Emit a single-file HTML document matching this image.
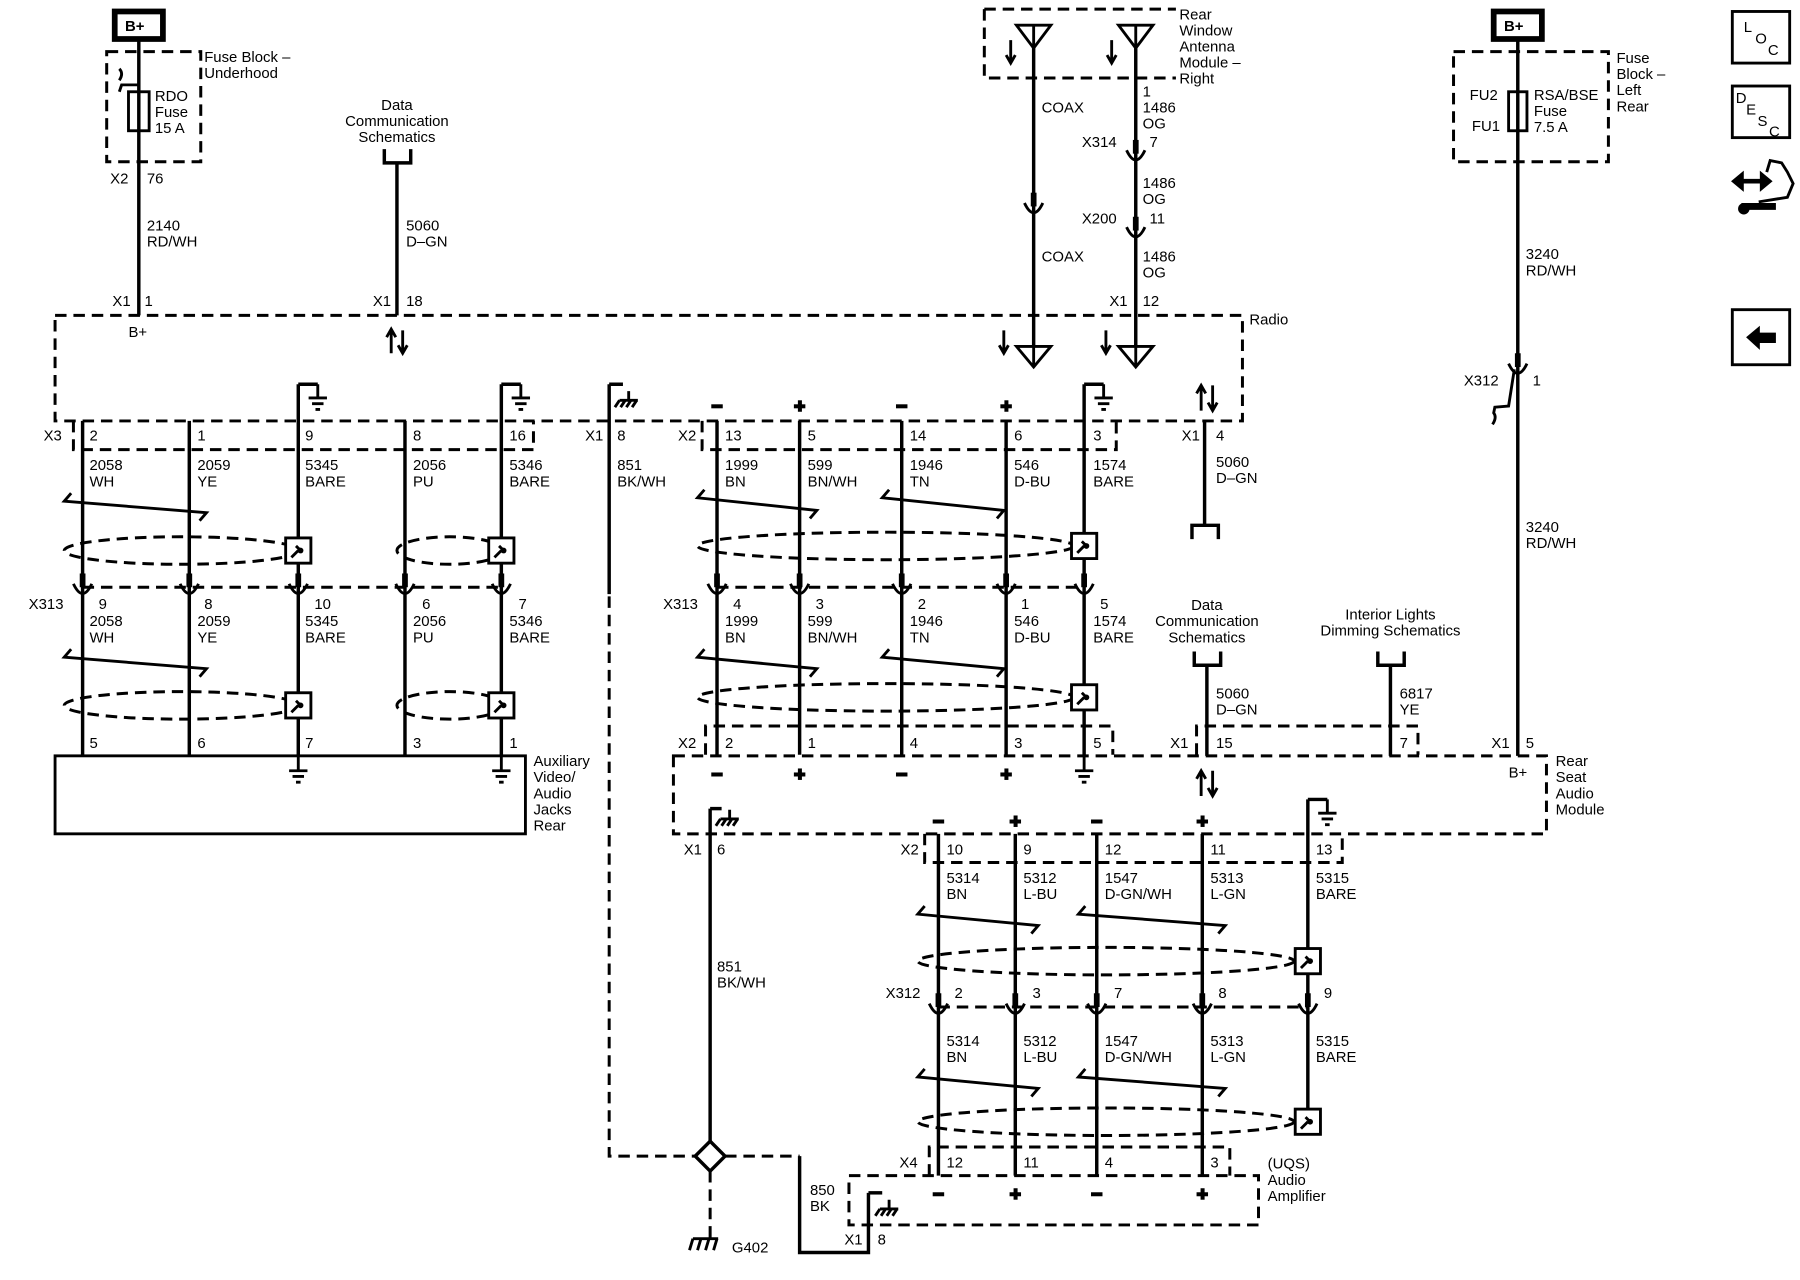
<!DOCTYPE html>
<html><head><meta charset="utf-8"><style>
html,body{margin:0;padding:0;background:#fff;}
svg{display:block}
text{font-family:"Liberation Sans",Arial,sans-serif;font-size:13px;fill:#000;}
.w{stroke:#000;stroke-width:3;fill:none}
.d{stroke:#000;stroke-width:2.6;fill:none;stroke-dasharray:10 6}
.t{stroke:#000;stroke-width:2.5;fill:none}
</style></head><body>
<svg width="1800" height="1280" viewBox="0 0 1569 1116" preserveAspectRatio="none" xmlns="http://www.w3.org/2000/svg">
<defs>
<g id="gnd"><path class="t" d="M0 0v12M-8 12h16M-5 17h10M-2 22h4"/></g>
<g id="cn"><rect x="-2.5" y="-16" width="5" height="12" fill="#000"/><path class="t" d="M-8 -7Q0 10 8 -7"/></g>
<g id="sb"><rect x="-11" y="-11" width="22" height="22" fill="#fff" stroke="#000" stroke-width="2.5"/><path class="t" d="M-6 6L0 0M-2 -4L2 0" /><circle cx="2" cy="0" r="2.5" fill="#000"/></g>
<g id="cg"><path class="t" d="M0 0v8M-8 8h16M-8 8l-4 6M-3 8l-4 6M2 8l-4 6M7 8l-4 6"/></g>
<g id="ant"><path class="t" d="M-15 0h30L0 20ZM0 0v20"/></g>
<g id="rx"><path class="t" d="M-15 0h30L0 18ZM0 -2v20"/></g>
<g id="mi"><rect x="-5" y="-1.5" width="10" height="3.5" fill="#000"/></g>
<g id="pl"><rect x="-5" y="-1.5" width="10" height="3.5" fill="#000"/><rect x="-1.5" y="-5" width="3.5" height="10" fill="#000"/></g>
</defs>

<!-- right icons -->
<rect x="1510" y="10" width="50" height="45" fill="none" stroke="#000" stroke-width="2.5"/>
<text x="1520" y="28" font-size="12">L</text><text x="1530" y="38" font-size="12">O</text><text x="1541" y="48" font-size="12">C</text>
<rect x="1510" y="75" width="50" height="45" fill="none" stroke="#000" stroke-width="2.5"/>
<text x="1513" y="90" font-size="12">D</text><text x="1522" y="100" font-size="12">E</text><text x="1532" y="110" font-size="12">S</text><text x="1542" y="119" font-size="12">C</text>
<path d="M1512 158h30M1512 158l6 -5v10zM1542 158l-6 -5v10z" stroke="#000" stroke-width="4" fill="#000"/>
<path d="M1540 150l3 -10l10 2l5 8l5 10l-5 12l-25 4" class="t"/>
<path d="M1518 180h30" stroke="#000" stroke-width="6"/><circle cx="1520" cy="182" r="5" fill="#000"/>
<rect x="1510" y="270" width="50" height="48" fill="none" stroke="#000" stroke-width="2.5"/>
<path d="M1522 294l12 -10v6h14v9h-14v6z" fill="#000"/>

<!-- top left fuse -->
<rect x="100" y="10" width="42" height="24" fill="#fff" stroke="#000" stroke-width="5"/>
<text x="109" y="27" font-weight="bold">B+</text>
<path class="d" d="M93 45h82v96h-82z"/>
<text x="178" y="54">Fuse Block –</text><text x="178" y="68">Underhood</text>
<path class="w" d="M121 34V275"/>
<path class="t" d="M121 74h-15l-2 6M104 70q4 -6 0 -10"/>
<rect x="112" y="80" width="18" height="34" fill="none" stroke="#000" stroke-width="2.5"/>
<text x="135" y="88">RDO</text><text x="135" y="102">Fuse</text><text x="135" y="116">15 A</text>
<text x="96" y="160">X2</text><text x="128" y="160">76</text>
<text x="128" y="201">2140</text><text x="128" y="215">RD/WH</text>
<text x="98" y="267">X1</text><text x="126" y="267">1</text><text x="112" y="294">B+</text>

<!-- data comm top -->
<text x="346" y="96" text-anchor="middle">Data</text><text x="346" y="110" text-anchor="middle">Communication</text><text x="346" y="124" text-anchor="middle">Schematics</text>
<path class="w" d="M335 130v12h23v-12M346 142V275"/>
<text x="354" y="201">5060</text><text x="354" y="215">D–GN</text>
<text x="325" y="267">X1</text><text x="354" y="267">18</text>
<path class="t" d="M341 308v-20M337 294l4 -7l4 7M351 288v20M347 301l4 7l4 -7"/>

<!-- antenna module -->
<path class="d" d="M858 8h167M858 8v60h167"/>
<text x="1028" y="17">Rear</text><text x="1028" y="31">Window</text><text x="1028" y="45">Antenna</text><text x="1028" y="59">Module –</text><text x="1028" y="73">Right</text>
<use href="#ant" x="901" y="22"/><use href="#ant" x="990" y="22"/>
<path class="t" d="M881 35v20M877 48l4 7l4 -7M969 35v20M965 48l4 7l4 -7"/>
<path class="w" d="M901 42V302M990 42V302"/>
<use href="#cn" x="901" y="184"/>
<text x="908" y="98">COAX</text><text x="908" y="228">COAX</text>
<text x="996" y="84">1</text><text x="996" y="98">1486</text><text x="996" y="112">OG</text>
<text x="943" y="128">X314</text><text x="1002" y="128">7</text><use href="#cn" x="990" y="138"/>
<text x="996" y="164">1486</text><text x="996" y="178">OG</text>
<text x="943" y="195">X200</text><text x="1002" y="195">11</text><use href="#cn" x="990" y="205"/>
<text x="996" y="228">1486</text><text x="996" y="242">OG</text>
<text x="967" y="267">X1</text><text x="996" y="267">12</text>
<use href="#rx" x="901" y="302"/><use href="#rx" x="990" y="302"/>
<path class="t" d="M875 288v20M871 301l4 7l4 -7M964 288v20M960 301l4 7l4 -7"/>

<!-- radio box -->
<path class="d" d="M48 275H1083V367H48Z"/>
<text x="1089" y="283">Radio</text>

<!-- left section -->
<path class="d" d="M64 367v25h401v-25"/>
<path class="w" d="M72 367V658M165 367V658M260 335V658M353 367V658M437 335V658M260 335h17M437 335h17"/>
<use href="#gnd" x="277" y="335"/><use href="#gnd" x="454" y="335"/>
<text x="38" y="384">X3</text>
<text x="78" y="384">2</text><text x="172" y="384">1</text><text x="266" y="384">9</text><text x="360" y="384">8</text><text x="444" y="384">16</text>
<text x="78" y="410">2058</text><text x="78" y="424">WH</text>
<text x="172" y="410">2059</text><text x="172" y="424">YE</text>
<text x="266" y="410">5345</text><text x="266" y="424">BARE</text>
<text x="360" y="410">2056</text><text x="360" y="424">PU</text>
<text x="444" y="410">5346</text><text x="444" y="424">BARE</text>
<path class="t" d="M62 430L56 437L180 447L174 454"/>
<ellipse cx="158" cy="480" rx="102" ry="12" class="d" stroke-width="2"/>
<ellipse cx="392" cy="480" rx="46" ry="12" class="d" stroke-width="2"/>
<use href="#sb" x="260" y="480"/><use href="#sb" x="437" y="480"/>
<path class="d" d="M72 512H437"/>
<use href="#cn" x="72" y="516"/><use href="#cn" x="165" y="516"/><use href="#cn" x="260" y="516"/><use href="#cn" x="353" y="516"/><use href="#cn" x="437" y="516"/>
<text x="25" y="531">X313</text>
<text x="86" y="531">9</text><text x="178" y="531">8</text><text x="274" y="531">10</text><text x="368" y="531">6</text><text x="452" y="531">7</text>
<text x="78" y="546">2058</text><text x="78" y="560">WH</text>
<text x="172" y="546">2059</text><text x="172" y="560">YE</text>
<text x="266" y="546">5345</text><text x="266" y="560">BARE</text>
<text x="360" y="546">2056</text><text x="360" y="560">PU</text>
<text x="444" y="546">5346</text><text x="444" y="560">BARE</text>
<path class="t" d="M62 566L56 573L180 583L174 590"/>
<ellipse cx="158" cy="615" rx="102" ry="12" class="d" stroke-width="2"/>
<ellipse cx="392" cy="615" rx="46" ry="12" class="d" stroke-width="2"/>
<use href="#sb" x="260" y="615"/><use href="#sb" x="437" y="615"/>
<text x="78" y="652">5</text><text x="172" y="652">6</text><text x="266" y="652">7</text><text x="360" y="652">3</text><text x="444" y="652">1</text>
<rect x="48" y="659" width="410" height="68" fill="none" stroke="#000" stroke-width="2.5"/>
<use href="#gnd" x="260" y="660"/><use href="#gnd" x="437" y="660"/>
<text x="465" y="668">Auxiliary</text><text x="465" y="682">Video/</text><text x="465" y="696">Audio</text><text x="465" y="710">Jacks</text><text x="465" y="724">Rear</text>

<!-- 851 ground wire -->
<path class="w" d="M531 335V518M531 335h12"/>
<use href="#cg" x="548" y="341"/>
<text x="510" y="384">X1</text><text x="538" y="384">8</text>
<text x="538" y="410">851</text><text x="538" y="424">BK/WH</text>
<path class="d" d="M531 520V1008H606M632 1008H697"/>
<path class="w" d="M697 1008V1092H757V1040"/>
<path d="M606 1008L619 995L632 1008L619 1021Z" fill="#fff" stroke="#000" stroke-width="3"/>
<path class="d" d="M619 1021V1080"/>
<path class="t" d="M604 1080h22M604 1080l-3 10M611 1080l-3 10M618 1080l-3 10M625 1080l-3 10"/>
<text x="638" y="1092">G402</text>
<path class="w" d="M619 705V995"/>
<path class="w" d="M619 705h10"/><use href="#cg" x="636" y="706"/>
<text x="596" y="745">X1</text><text x="625" y="745">6</text>
<text x="625" y="847">851</text><text x="625" y="861">BK/WH</text>
<text x="706" y="1042">850</text><text x="706" y="1056">BK</text>
<text x="736" y="1085">X1</text><text x="765" y="1085">8</text>

<!-- middle section -->
<path class="d" d="M612 367v25h361v-25"/>
<path class="w" d="M625 367V658M697 367V658M786 367V658M877 367V658M945 335V658M945 335h17"/>
<use href="#gnd" x="962" y="335"/>
<use href="#mi" x="625" y="354"/><use href="#pl" x="697" y="354"/><use href="#mi" x="786" y="354"/><use href="#pl" x="877" y="354"/>
<text x="591" y="384">X2</text>
<text x="632" y="384">13</text><text x="704" y="384">5</text><text x="793" y="384">14</text><text x="884" y="384">6</text><text x="953" y="384">3</text>
<text x="632" y="410">1999</text><text x="632" y="424">BN</text>
<text x="704" y="410">599</text><text x="704" y="424">BN/WH</text>
<text x="793" y="410">1946</text><text x="793" y="424">TN</text>
<text x="884" y="410">546</text><text x="884" y="424">D-BU</text>
<text x="953" y="410">1574</text><text x="953" y="424">BARE</text>
<path class="t" d="M614 427L608 434L712 445L706 452M775 427L769 434L875 445L869 452"/>
<ellipse cx="772" cy="476" rx="164" ry="12" class="d" stroke-width="2"/>
<use href="#sb" x="945" y="476"/>
<path class="d" d="M625 512H945"/>
<use href="#cn" x="625" y="516"/><use href="#cn" x="697" y="516"/><use href="#cn" x="786" y="516"/><use href="#cn" x="877" y="516"/><use href="#cn" x="945" y="516"/>
<text x="578" y="531">X313</text>
<text x="639" y="531">4</text><text x="711" y="531">3</text><text x="800" y="531">2</text><text x="890" y="531">1</text><text x="959" y="531">5</text>
<text x="632" y="546">1999</text><text x="632" y="560">BN</text>
<text x="704" y="546">599</text><text x="704" y="560">BN/WH</text>
<text x="793" y="546">1946</text><text x="793" y="560">TN</text>
<text x="884" y="546">546</text><text x="884" y="560">D-BU</text>
<text x="953" y="546">1574</text><text x="953" y="560">BARE</text>
<path class="t" d="M614 566L608 573L712 583L706 590M775 566L769 573L875 583L869 590"/>
<ellipse cx="772" cy="608" rx="164" ry="12" class="d" stroke-width="2"/>
<use href="#sb" x="945" y="608"/>
<path class="d" d="M615 658v-25h355v25"/>
<text x="591" y="652">X2</text>
<text x="632" y="652">2</text><text x="704" y="652">1</text><text x="793" y="652">4</text><text x="884" y="652">3</text><text x="953" y="652">5</text>

<!-- X1 4 -->
<path class="t" d="M1047 358v-22M1043 343l4 -7l4 7M1057 336v22M1053 351l4 7l4 -7"/>
<text x="1030" y="384">X1</text><text x="1060" y="384">4</text>
<path class="w" d="M1050 367V458"/>
<path class="w" d="M1039 470v-12h23v12"/>
<text x="1060" y="407">5060</text><text x="1060" y="421">D–GN</text>

<!-- data comm / interior -->
<text x="1052" y="532" text-anchor="middle">Data</text><text x="1052" y="546" text-anchor="middle">Communication</text><text x="1052" y="560" text-anchor="middle">Schematics</text>
<path class="w" d="M1041 568v12h23v-12M1052 580V659"/>
<text x="1060" y="609">5060</text><text x="1060" y="623">D–GN</text>
<text x="1212" y="540" text-anchor="middle">Interior Lights</text><text x="1212" y="554" text-anchor="middle">Dimming Schematics</text>
<path class="w" d="M1201 568v12h23v-12M1212 580V659"/>
<text x="1220" y="609">6817</text><text x="1220" y="623">YE</text>
<path class="d" d="M1043 658v-25h193v25"/>
<text x="1020" y="652">X1</text><text x="1060" y="652">15</text><text x="1220" y="652">7</text>
<path class="t" d="M1047 694v-22M1043 679l4 -7l4 7M1057 672v22M1053 687l4 7l4 -7"/>

<!-- right fuse -->
<rect x="1302" y="10" width="42" height="24" fill="#fff" stroke="#000" stroke-width="5"/>
<text x="1311" y="27" font-weight="bold">B+</text>
<path class="d" d="M1267 45h135v96h-135z"/>
<text x="1409" y="55">Fuse</text><text x="1409" y="69">Block –</text><text x="1409" y="83">Left</text><text x="1409" y="97">Rear</text>
<path class="w" d="M1323 34V310M1323 318V659"/>
<rect x="1315" y="80" width="16" height="34" fill="none" stroke="#000" stroke-width="2.5"/>
<text x="1281" y="87">FU2</text><text x="1283" y="114">FU1</text>
<text x="1337" y="87">RSA/BSE</text><text x="1337" y="101">Fuse</text><text x="1337" y="115">7.5 A</text>
<text x="1330" y="226">3240</text><text x="1330" y="240">RD/WH</text>
<use href="#cn" x="1323" y="324"/>
<path class="t" d="M1320 322l-5 32l-12 1l-1 5q3 4 -1 10"/>
<text x="1276" y="336">X312</text><text x="1336" y="336">1</text>
<text x="1330" y="464">3240</text><text x="1330" y="478">RD/WH</text>
<text x="1300" y="652">X1</text><text x="1330" y="652">5</text>

<!-- RSA module -->
<path class="d" d="M587 659H1348V727H587Z"/>
<text x="1315" y="678">B+</text>
<text x="1356" y="668">Rear</text><text x="1356" y="682">Seat</text><text x="1356" y="696">Audio</text><text x="1356" y="710">Module</text>
<use href="#mi" x="625" y="675"/><use href="#pl" x="697" y="675"/><use href="#mi" x="786" y="675"/><use href="#pl" x="877" y="675"/>
<use href="#gnd" x="945" y="660"/>

<!-- lower section -->
<use href="#mi" x="818" y="716"/><use href="#pl" x="885" y="716"/><use href="#mi" x="956" y="716"/><use href="#pl" x="1048" y="716"/>
<path class="w" d="M818 727V1025M885 727V1025M956 727V1025M1048 727V1025M1140 697V990M1140 697h17"/>
<use href="#gnd" x="1157" y="697"/>
<path class="d" d="M806 727v25h364v-25"/>
<text x="785" y="745">X2</text>
<text x="825" y="745">10</text><text x="892" y="745">9</text><text x="963" y="745">12</text><text x="1055" y="745">11</text><text x="1147" y="745">13</text>
<text x="825" y="770">5314</text><text x="825" y="784">BN</text>
<text x="892" y="770">5312</text><text x="892" y="784">L-BU</text>
<text x="963" y="770">1547</text><text x="963" y="784">D-GN/WH</text>
<text x="1055" y="770">5313</text><text x="1055" y="784">L-GN</text>
<text x="1147" y="770">5315</text><text x="1147" y="784">BARE</text>
<path class="t" d="M806 790L800 797L905 807L899 814M946 790L940 797L1068 807L1062 814"/>
<ellipse cx="964" cy="838" rx="164" ry="12" class="d" stroke-width="2"/>
<use href="#sb" x="1140" y="838"/>
<path class="d" d="M818 878H1140"/>
<use href="#cn" x="818" y="882"/><use href="#cn" x="885" y="882"/><use href="#cn" x="956" y="882"/><use href="#cn" x="1048" y="882"/><use href="#cn" x="1140" y="882"/>
<text x="772" y="870">X312</text>
<text x="832" y="870">2</text><text x="900" y="870">3</text><text x="971" y="870">7</text><text x="1062" y="870">8</text><text x="1154" y="870">9</text>
<text x="825" y="912">5314</text><text x="825" y="926">BN</text>
<text x="892" y="912">5312</text><text x="892" y="926">L-BU</text>
<text x="963" y="912">1547</text><text x="963" y="926">D-GN/WH</text>
<text x="1055" y="912">5313</text><text x="1055" y="926">L-GN</text>
<text x="1147" y="912">5315</text><text x="1147" y="926">BARE</text>
<path class="t" d="M806 932L800 939L905 949L899 956M946 932L940 939L1068 949L1062 956"/>
<ellipse cx="964" cy="978" rx="164" ry="12" class="d" stroke-width="2"/>
<use href="#sb" x="1140" y="978"/>
<path class="d" d="M810 1025v-25h262v25"/>
<text x="784" y="1018">X4</text>
<text x="825" y="1018">12</text><text x="892" y="1018">11</text><text x="963" y="1018">4</text><text x="1055" y="1018">3</text>
<path class="d" d="M740 1025H1097V1068H740Z"/>
<use href="#mi" x="818" y="1041"/><use href="#pl" x="885" y="1041"/><use href="#mi" x="956" y="1041"/><use href="#pl" x="1048" y="1041"/>
<path class="w" d="M757 1040h12"/><use href="#cg" x="775" y="1046"/>
<text x="1105" y="1019">(UQS)</text><text x="1105" y="1033">Audio</text><text x="1105" y="1047">Amplifier</text>
</svg>
</body></html>
